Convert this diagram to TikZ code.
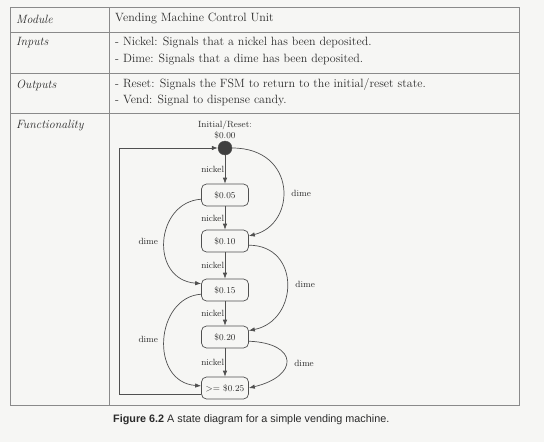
\documentclass[tikz,border=0pt]{standalone}
\usepackage{fontspec}
\newfontfamily\capfont{Liberation Sans}
\usetikzlibrary{arrows.meta}
\definecolor{paper}{HTML}{F6F6F4}
\definecolor{rulec}{HTML}{8A8A8A}
\definecolor{ink}{HTML}{2A2A2A}
\definecolor{wire}{HTML}{505050}
\begin{document}
\begin{tikzpicture}[x=1pt,y=-1pt,
  tbl/.style={draw=rulec, line width=0.7pt},
  tabtxt/.style={anchor=west, inner sep=0pt, font=\fontsize{12}{14}\selectfont, text=ink},
  tablab/.style={tabtxt, font=\fontsize{12}{14}\selectfont\itshape},
  state/.style={draw=wire, rounded corners=5pt, minimum width=47pt, minimum height=22pt, inner sep=0pt, font=\fontsize{9}{10}\selectfont, text=ink, line width=0.7pt},
  lbl/.style={font=\fontsize{9}{10}\selectfont, text=ink, inner sep=1pt},
  arr/.style={draw=wire, line width=0.7pt, -{Latex[length=6pt,width=4.5pt]}},
]
\fill[paper] (0,0) rectangle (544,442);
\useasboundingbox (0,0) rectangle (544,442);

% table
\draw[tbl] (10,7) rectangle (519,405);
\draw[tbl] (109,7) -- (109,405);
\draw[tbl] (10,32) -- (519,32);
\draw[tbl] (10,73) -- (519,73);
\draw[tbl] (10,113) -- (519,113);

\node[tablab] (lmod) at (16,19) {Module};
\node[tablab] (linp) at (16,43) {Inputs};
\node[tablab] (lout) at (16,85) {Outputs};
\node[tablab] (lfun) at (16,126) {Functionality};

\node[tabtxt] (tmod) at (115,19) {Vending Machine Control Unit};
\node[tabtxt] (tin1) at (115,43) {- Nickel: Signals that a nickel has been deposited.};
\node[tabtxt] (tin2) at (115,60) {- Dime: Signals that a dime has been deposited.};
\node[tabtxt] (tout1) at (115,84) {- Reset: Signals the FSM to return to the initial/reset state.};
\node[tabtxt] (tout2) at (115,101) {- Vend: Signal to dispense candy.};

% state diagram
\node[circle, fill=ink!90, draw=wire, minimum size=14pt, inner sep=0pt] (init) at (225,148) {};
\node[lbl, align=center, font=\fontsize{9}{11}\selectfont] (initlab) at (225,129.5) {Initial/Reset:\\\$0.00};
\node[state] (s05) at (225,195) {\$0.05};
\node[state] (s10) at (225,241) {\$0.10};
\node[state] (s15) at (225,290) {\$0.15};
\node[state] (s20) at (225,337) {\$0.20};
\node[state] (s25) at (225,388) {>= \$0.25};

\draw[arr] (init) -- node[lbl, left=0pt, inner sep=0.5pt] {nickel} (s05);
\draw[arr] (s05) -- node[lbl, left=0pt, inner sep=0.5pt] {nickel} (s10);
\draw[arr] (s10) -- node[lbl, left=0pt, inner sep=0.5pt] {nickel} (s15);
\draw[arr] (s15) -- node[lbl, left=0pt, inner sep=0.5pt] {nickel} (s20);
\draw[arr] (s20) -- node[lbl, left=0pt, inner sep=0.5pt] {nickel} (s25);

\draw[arr] (init.east) .. controls +(65,0) and +(48,-12) .. node[lbl, pos=0.55, right=7pt] {dime} (s10.12);
\draw[arr] (s05.190) .. controls +(-46,3) and +(-52,-4) .. node[lbl, pos=0.5, left=5pt] {dime} (s15.165);
\draw[arr] (s10.-10) .. controls +(52,0) and +(50,-10) .. node[lbl, pos=0.5, right=7pt] {dime} (s20.15);
\draw[arr] (s15.190) .. controls +(-46,3) and +(-52,-4) .. node[lbl, pos=0.5, left=5pt] {dime} (s25.175);
\draw[arr] (s20.-10) .. controls +(50,2) and +(50,-12) .. node[lbl, pos=0.55, right=7pt] {dime} (s25.east);

\coordinate (ret) at (119,394);
\draw[arr] (s25.194) -- (s25.194 -| ret) |- (init);

% caption
\node[anchor=west, inner sep=0pt, font=\capfont\fontsize{10.8}{13}\selectfont, text=ink] (cap) at (113,420) {\textbf{Figure 6.2} A state diagram for a simple vending machine.};
\end{tikzpicture}
\end{document}
